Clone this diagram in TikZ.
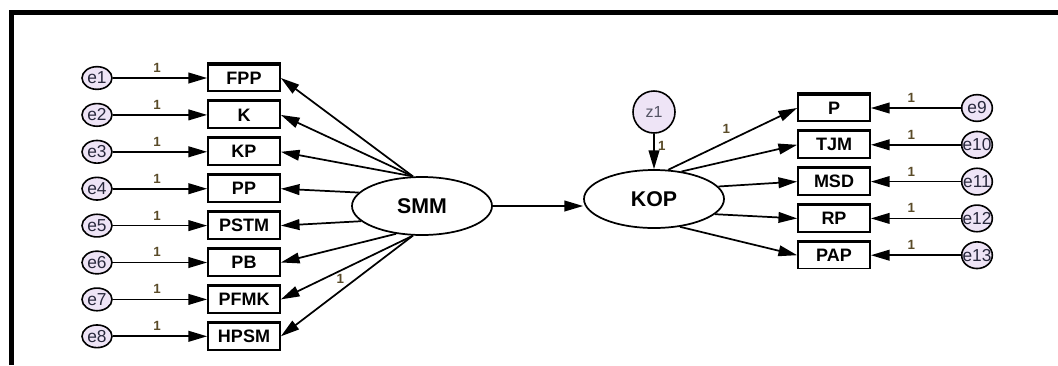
\documentclass[tikz,border=0pt]{standalone}
\usepackage{fontspec}
\setmainfont{Liberation Sans}
\usetikzlibrary{arrows.meta,shapes.geometric}
\definecolor{errfill}{RGB}{238,228,246}
\definecolor{onecol}{RGB}{90,75,40}
\definecolor{errtext}{RGB}{40,40,60}
\tikzset{
	conn/.style={line width=1.3pt, -{Triangle[length=14pt,width=8pt]}},
	obsvar/.style={draw, line width=1.3pt, minimum width=54pt, minimum height=20pt, inner sep=1pt, font=\fontsize{13.5}{14}\selectfont\bfseries,
		append after command={(\tikzlastnode.north west) edge[line width=2.2pt] (\tikzlastnode.north east)}},
	latvar/.style={draw, ellipse, line width=1.3pt, minimum width=105pt, minimum height=43.5pt, font=\fontsize{16}{18}\selectfont\bfseries},
	errvar/.style={draw, ellipse, line width=1.2pt, fill=errfill, inner sep=0pt, minimum width=22.5pt, minimum height=17pt},
	errtxt/.style={text=errtext, font=\fontsize{13}{14}\selectfont, inner sep=0pt},
	one/.style={text=onecol, font=\fontsize{10}{11}\selectfont\bfseries, inner sep=1pt}
}

\begin{document}
\begin{tikzpicture}[x=0.75pt, y=-0.75pt]
\useasboundingbox[fill=white] (0,0) rectangle (1058,365);
\draw[line width=3.4pt] (11.5,365) |- (1058,12.5);

% exogenous side
\node[latvar] (SMM) at (422,206) {SMM};
\foreach \name [count=\i] in {FPP,K,KP,PP,PSTM,PB,PFMK,HPSM}{
	\node[obsvar] (\name) at (244,{78+(\i-1)*36.9}) {\name};
	\node[errvar, label={[errtxt]center:e\i}] (e\i) at (97,{78+(\i-1)*36.9}) {};
	\draw[conn] (e\i) -- node[one, above=2.5pt, pos=0.47] {1} (\name);
}
\foreach \name/\ang in {FPP/107,K/107,KP/107,PP/168,PSTM/194,PB/227,PFMK/253}
	\draw[conn] (SMM.\ang) -- (\name.east);
\draw[conn] (SMM.253) -- node[one, pos=0.55, above=4pt] {1} (HPSM.east);

% endogenous side
\node[latvar] (KOP) at (654,199) {KOP};
\node[errvar, circle, minimum size=31.5pt, font=\fontsize{12}{13}\selectfont, text=errtext!80] (z1) at (654,112) {z1};
\draw[conn] (z1) -- node[one, right=1.5pt, pos=0.35] {1} (KOP.north);
\foreach \name [count=\j from 9] in {P,TJM,MSD,RP,PAP}{
	\node[obsvar] (\name) at (834,{108+(\j-9)*36.8}) {\name};
	\node[errvar, minimum width=23pt, minimum height=20pt, label={[errtxt]center:e\j}] (e\j) at (977,{108+(\j-9)*36.8}) {};
	\draw[conn] (e\j) -- node[one, above=2.5pt, pos=0.55] {1} (\name);
}
\draw[conn] (KOP.64) -- node[one, pos=0.45, above=5pt] {1} (P.west);
\foreach \name/\ang in {TJM/45,MSD/11,RP/346,PAP/313}
	\draw[conn] (KOP.\ang) -- (\name.west);
\draw[conn] (SMM.east) -- (KOP.west |- SMM.east);
\end{tikzpicture}
\end{document}
